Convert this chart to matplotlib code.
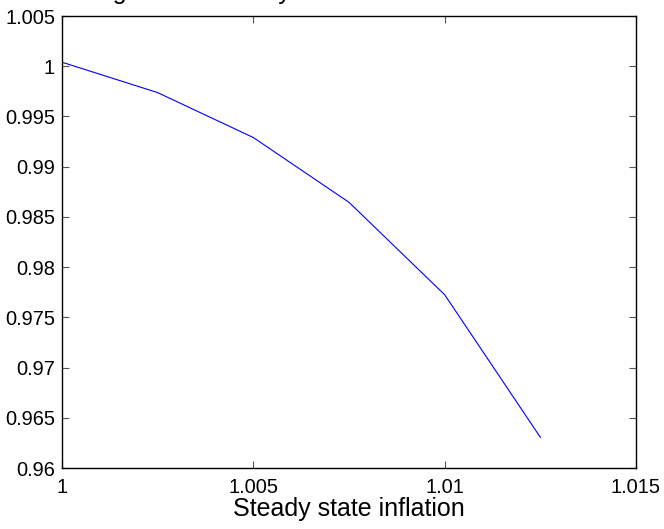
import matplotlib
matplotlib.use("Agg")
import matplotlib.pyplot as plt

# steady state inflation vs welfare
inflation = [1.0, 1.0025, 1.005, 1.0075, 1.01, 1.0125]
welfare = [1.0004, 0.99737, 0.99290, 0.98645, 0.97725, 0.96306]

xticks = [1, 1.005, 1.01, 1.015]
xticklabels = ["1", "1.005", "1.01", "1.015"]
yticks = [0.96, 0.965, 0.97, 0.975, 0.98, 0.985, 0.99, 0.995, 1.0, 1.005]
yticklabels = ["0.96", "0.965", "0.97", "0.975", "0.98", "0.985", "0.99", "0.995", "1", "1.005"]

plt.rcParams["font.family"] = ["Liberation Sans", "DejaVu Sans"]

fig = plt.figure(figsize=(6.64, 5.29), dpi=100)
ax = fig.add_axes([62 / 664, 61 / 529, 574 / 664, 452 / 529])

ax.plot(inflation, welfare, color=(0, 0, 1), lw=0.8)

ax.set_xlim(1, 1.015)
ax.set_ylim(0.96, 1.005)
ax.set_xticks(xticks)
ax.set_xticklabels(xticklabels)
ax.set_yticks(yticks)
ax.set_yticklabels(yticklabels)
ax.tick_params(direction="in", length=5, width=0.8, color="#555555",
               top=True, right=True, labelsize=14.4, pad=5)
ax.tick_params(axis="x", pad=7)
for s in ax.spines.values():
    s.set_linewidth(1.0)

ax.set_xlabel("Steady state inflation", fontsize=18, labelpad=0)

# title sits almost entirely above the figure edge, as in the original export
fig.text(323 / 664, 530 / 529, "Long run welfare by the level of trend inflation",
         ha="center", va="baseline", fontsize=18)

fig.savefig("out.png", dpi=100)
